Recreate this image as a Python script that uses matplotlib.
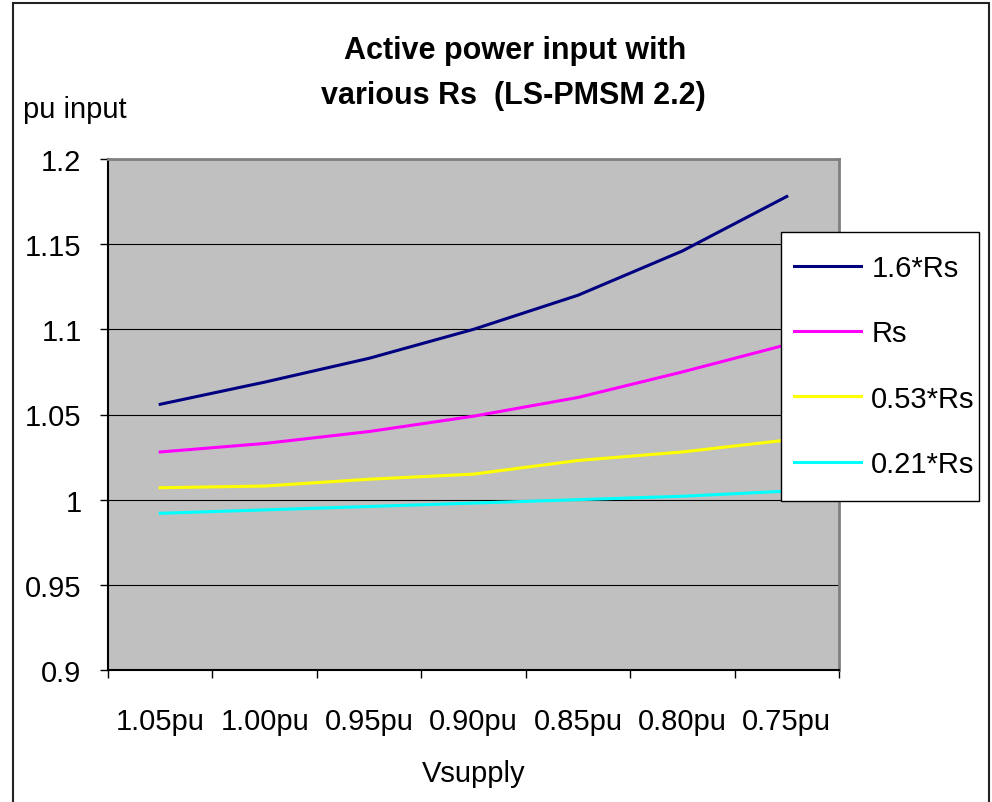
import matplotlib.pyplot as plt
from matplotlib.patches import Rectangle
from matplotlib.ticker import FixedLocator

plt.rcParams['font.family'] = ['Liberation Sans', 'DejaVu Sans']

categories = ['1.05pu', '1.00pu', '0.95pu', '0.90pu', '0.85pu', '0.80pu', '0.75pu']
rs_16 = [1.056, 1.069, 1.083, 1.100, 1.120, 1.146, 1.178]
rs_10 = [1.028, 1.033, 1.040, 1.049, 1.060, 1.075, 1.091]
rs_053 = [1.007, 1.008, 1.012, 1.015, 1.023, 1.028, 1.035]
rs_021 = [0.992, 0.994, 0.996, 0.998, 1.000, 1.002, 1.005]
series_names = ['1.6*Rs', 'Rs', '0.53*Rs', '0.21*Rs']
y_ticks = [0.9, 0.95, 1.0, 1.05, 1.1, 1.15, 1.2]
y_labels = ['0.9', '0.95', '1', '1.05', '1.1', '1.15', '1.2']

W, H = 992, 803
fig = plt.figure(figsize=(W / 100, H / 100), dpi=100)
fig.patch.set_facecolor('white')
ax = fig.add_axes([108 / W, 1 - 671 / H, (839 - 108) / W, (671 - 160) / H])
ax.set_facecolor('#C0C0C0')

x = list(range(len(categories)))
colors = ['#000080', '#FF00FF', '#FFFF00', '#00FFFF']
for vals, name, c in zip([rs_16, rs_10, rs_053, rs_021], series_names, colors):
    ax.plot(x, vals, color=c, lw=2.2, label=name, zorder=3)

ax.set_xlim(-0.5, len(categories) - 0.5)
ax.set_ylim(0.9, 1.2)
ax.set_yticks(y_ticks)
ax.set_yticklabels(y_labels)
ax.set_xticks(x)
ax.set_xticklabels(categories)
ax.xaxis.set_minor_locator(FixedLocator([i - 0.5 for i in range(len(categories) + 1)]))
ax.tick_params(axis='x', which='major', length=0, pad=27, labelsize=21)
ax.tick_params(axis='x', which='minor', length=6, width=1, color='black', direction='out')
ax.tick_params(axis='y', length=6, width=1, color='black', direction='out', pad=13, labelsize=21)

ax.grid(axis='y', color='black', lw=0.8, zorder=1)
ax.set_axisbelow(True)
for s in ['left', 'bottom']:
    ax.spines[s].set_color('black')
    ax.spines[s].set_linewidth(1.5)
for s in ['top', 'right']:
    ax.spines[s].set_color('#808080')
    ax.spines[s].set_linewidth(2)

ax.set_xlabel('Vsupply', fontsize=21, labelpad=17)

fig.text(515 / W, 1 - 59 / H, 'Active power input with', ha='center', va='baseline',
         fontsize=22, fontweight='bold')
fig.text(513 / W, 1 - 104 / H, 'various Rs  (LS-PMSM 2.2)', ha='center', va='baseline',
         fontsize=22, fontweight='bold')
fig.text(23 / W, 1 - 118 / H, 'pu input', ha='left', va='baseline', fontsize=21)

# legend box drawn separately so its padding matches the original
fig.add_artist(Rectangle((781 / W, 1 - 502 / H), (979 - 781) / W, (502 - 233) / H,
                         transform=fig.transFigure, facecolor='white', edgecolor='black',
                         lw=1, zorder=2))
handles, labels = ax.get_legend_handles_labels()
fig.legend(handles, labels, loc='upper left', bbox_to_anchor=(794 / W, 1 - 255 / H),
           frameon=False, borderaxespad=0, borderpad=0, fontsize=21, labelspacing=1.28,
           handlelength=2.3, handletextpad=0.35)

fig.add_artist(Rectangle((13 / W, -0.05), (989 - 13) / W, 1.05 - 4 / H,
                         transform=fig.transFigure, fill=False, edgecolor='#222222',
                         lw=1.5, clip_on=False))

fig.savefig('out.png', dpi=100)
